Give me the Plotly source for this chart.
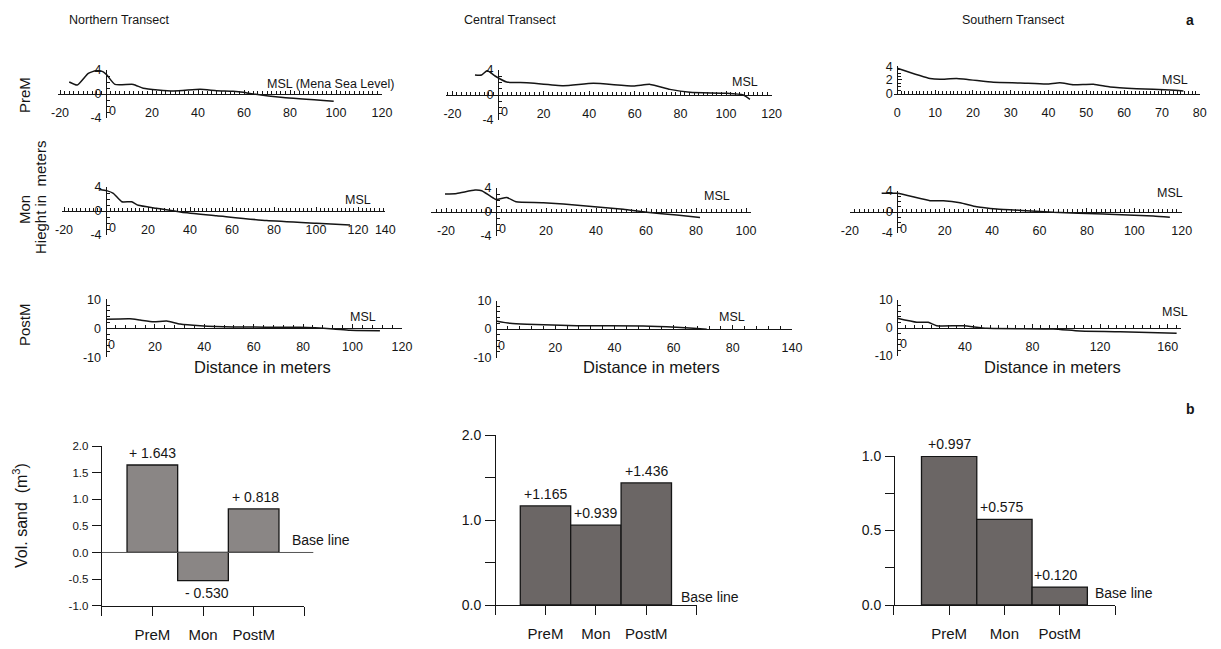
import plotly.graph_objects as go

W, H = 1221, 649

# ---------------- data: beach profiles (distance in m, height in m) ----------------
north_prem_x = [-16, -12.5, -7.7, -4, -1.2, 0.3, 3.9, 11.9, 16.2, 29.3, 40.9, 48.1, 55.3, 59.7, 64, 77, 99]
north_prem_y = [2.0, 1.5, 3.45, 3.9, 3.7, 3.2, 1.6, 1.6, 0.95, 0.5, 0.78, 0.55, 0.45, 0.28, 0.0, -0.6, -1.2]
central_prem_x = [-10.1, -7.2, -4.7, -1.3, 3.8, 12.6, 28.7, 41.8, 59.4, 66.7, 75.4, 84.2, 100.3, 107.6, 110.5]
central_prem_y = [3.2, 3.2, 3.9, 3.04, 2.08, 1.97, 1.5, 1.87, 1.44, 1.7, 0.9, 0.43, 0.27, 0.0, -0.7]
south_prem_x = [0, 8.65, 11.3, 15.7, 25.4, 32.5, 39.5, 43, 46.6, 51.9, 56.3, 63.3, 72.1, 75.7]
south_prem_y = [3.7, 2.2, 2.08, 2.2, 1.64, 1.54, 1.39, 1.58, 1.29, 1.35, 0.95, 0.7, 0.51, 0.37]

north_mon_x = [-2.9, 0.3, 3.5, 7.5, 12.2, 15.4, 24.1, 36, 52.7, 76.5, 100.3, 116.2]
north_mon_y = [3.6, 3.4, 2.95, 1.55, 1.55, 0.95, 0.45, -0.2, -0.78, -1.6, -2.05, -2.33]
central_mon_x = [-20.4, -15.7, -8.4, -5.7, -2.4, 0, 4.3, 8, 18.9, 34.9, 50.9, 60.3, 72.3, 81.6]
central_mon_y = [3.0, 3.1, 3.67, 3.55, 2.67, 2.1, 2.4, 1.72, 1.56, 1.06, 0.45, -0.05, -0.5, -0.9]
south_mon_x = [-6.6, 0, 13.8, 19.4, 26.5, 33.5, 41.9, 54.6, 65.8, 86.9, 108, 115]
south_mon_y = [3.56, 3.56, 2.15, 2.15, 1.77, 1.0, 0.57, 0.25, -0.06, -0.38, -0.76, -1.0]

north_postm_x = [0.2, 9.9, 14, 19.4, 24.8, 30.2, 38.3, 51.7, 78.7, 92.2, 99, 111.1]
north_postm_y = [3.1, 3.3, 2.86, 2.28, 2.5, 1.48, 0.9, 0.45, 0.33, -0.24, -0.7, -0.83]
central_postm_x = [0, 4.7, 10.4, 27.3, 49.8, 61, 66.7, 71.2]
central_postm_y = [2.83, 2.0, 1.65, 1.18, 1.06, 0.59, 0.24, -0.1]
south_postm_x = [0, 11.5, 18.3, 23.3, 39, 53, 92.3, 108, 131.8, 165.3]
south_postm_y = [3.46, 2.04, 2.04, 0.83, 0.83, -0.1, -0.36, -1.07, -1.3, -1.9]

# ---------------- data: sand volume change (m3) ----------------
seasons = ["PreM", "Mon", "PostM"]
north_vol = [1.643, -0.530, 0.818]
central_vol = [1.165, 0.939, 1.436]
south_vol = [0.997, 0.575, 0.120]
north_vol_text = ["+ 1.643", "- 0.530", "+ 0.818"]
central_vol_text = ["+1.165", "+0.939", "+1.436"]
south_vol_text = ["+0.997", "+0.575", "+0.120"]

# tick labels
ticks_m20_120 = [-20, 0, 20, 40, 60, 80, 100, 120]
ticks_0_80 = [0, 10, 20, 30, 40, 50, 60, 70, 80]
ticks_n_mon = [-20, 0, 20, 40, 60, 80, 100, 120, 133]
ticks_n_mon_text = ["-20", "0", "20", "40", "60", "80", "100", "120", "140"]
ticks_m20_100 = [-20, 0, 20, 40, 60, 80, 100]
ticks_0_120 = [0, 20, 40, 60, 80, 100, 120]
ticks_c_post = [0, 20, 40, 60, 80, 100]
ticks_c_post_text = ["0", "20", "40", "60", "80", "140"]
ticks_0_160 = [0, 40, 80, 120, 160]

FONT = "Liberation Sans, Arial, Helvetica, sans-serif"
BLACK = "#151515"
NB = "\u00a0"


def fx(p):
    return p / W


def fy(p):
    return 1 - p / H


fig = go.Figure()
annotations = []
shapes = []
layout = {}

# panel: (x, y, xrange, (pl, pr), yrange, (pb, pt), xtickvals, xticktext, xminor, ytickvals, yminor,
#         msl_text, msl_px, msl_py, zero label drawn right of the y axis)
panels = [
    (north_prem_x, north_prem_y, (-21, 120), (57.7, 382), (-4, 4), (118, 70),
     ticks_m20_120, None, 2, [-4, 0, 4], 1, "MSL (Mena Sea Level)", 330, 84, True),
    (central_prem_x, central_prem_y, (-22.9, 120), (445.8, 771.6), (-4, 4), (120, 70),
     ticks_m20_120, None, 2, [-4, 0, 4], 1, "MSL", 745, 82, True),
    (south_prem_x, south_prem_y, (-1, 80), (893.5, 1199.7), (0, 4.1), (93.5, 65.5),
     ticks_0_80, None, 1, [0, 2, 4], 0.5, "MSL", 1175, 80, False),
    (north_mon_x, north_mon_y, (-21, 133), (61.9, 385.3), (-4, 4), (235, 187),
     ticks_n_mon, ticks_n_mon_text, 2, [-4, 0, 4], 1, "MSL", 358, 200, True),
    (central_mon_x, central_mon_y, (-26, 102), (431, 751), (-4, 4), (236, 188),
     ticks_m20_100, None, 2, [-4, 0, 4], 1, "MSL", 717, 196, True),
    (south_mon_x, south_mon_y, (-20, 120), (849.9, 1181.7), (-4, 4), (233, 191),
     ticks_m20_120, None, 2, [-4, 0, 4], 1, "MSL", 1170, 193, True),
    (north_postm_x, north_postm_y, (0, 120), (105.5, 401.9), (-10, 10), (357.3, 299.3),
     ticks_0_120, None, 4, [-10, 0, 10], 2, "MSL", 363, 317, True),
    (central_postm_x, central_postm_y, (0, 100), (496, 792), (-10, 10), (357.5, 300.5),
     ticks_c_post, ticks_c_post_text, 4, [-10, 0, 10], 2, "MSL", 732, 317, True),
    (south_postm_x, south_postm_y, (0, 168), (897.3, 1181.2), (-10, 10), (356, 300),
     ticks_0_160, None, 5, [-10, 0, 10], 2, "MSL", 1175, 312, True),
]

TICKF = 12.5

for i, (xs, ys, xr, (pl, pr), yr, (pb, pt), xtv, xtt, xmin_d, ytv, ymin_d, msl, mx, my, shz) in enumerate(panels):
    k = i + 1
    xname = "x" if k == 1 else f"x{k}"
    yname = "y" if k == 1 else f"y{k}"
    fig.add_trace(go.Scatter(x=xs, y=ys, mode="lines", xaxis=xname, yaxis=yname,
                             line=dict(color=BLACK, width=1.5, shape="spline", smoothing=0.5),
                             hoverinfo="skip"))
    zero_py = pt + (yr[1] - 0) / (yr[1] - yr[0]) * (pb - pt)
    zero_px = pl + (0 - xr[0]) / (xr[1] - xr[0]) * (pr - pl)
    texts = list(xtt) if xtt else [str(v) for v in xtv]
    vals = list(xtv)
    if shz:
        # the "0" label sits just right of the vertical axis, drawn separately
        idx = vals.index(0)
        vals.pop(idx)
        zero_txt = texts.pop(idx)
        annotations.append(dict(x=0, y=fy(zero_py + 16.5), xref=xname, yref="paper", text=zero_txt,
                                showarrow=False, xanchor="center", yanchor="middle", xshift=6,
                                font=dict(size=TICKF, color=BLACK, family=FONT)))
    layout["xaxis" if k == 1 else f"xaxis{k}"] = dict(
        domain=[fx(pl), fx(pr)], range=list(xr), anchor="free", position=fy(zero_py),
        showline=True, linecolor=BLACK, linewidth=1, showgrid=False, zeroline=False,
        tickmode="array", tickvals=vals, ticktext=texts,
        ticks="inside", ticklen=4, tickcolor=BLACK, ticklabelstandoff=7,
        tickfont=dict(size=TICKF, color=BLACK, family=FONT),
        minor=dict(tickmode="linear", tick0=0, dtick=xmin_d, ticks="inside", ticklen=3,
                   tickcolor=BLACK, showgrid=False),
        fixedrange=True,
    )
    layout["yaxis" if k == 1 else f"yaxis{k}"] = dict(
        domain=[fy(pb), fy(pt)], range=list(yr), anchor="free", position=fx(zero_px),
        showline=True, linecolor=BLACK, linewidth=1, showgrid=False, zeroline=False,
        tickmode="array", tickvals=ytv, ticktext=[str(v) for v in ytv],
        ticks="inside", ticklen=4, tickcolor=BLACK, ticklabelstandoff=2,
        tickfont=dict(size=TICKF, color=BLACK, family=FONT),
        minor=dict(tickmode="linear", tick0=0, dtick=ymin_d, ticks="inside", ticklen=3,
                   tickcolor=BLACK, showgrid=False),
        fixedrange=True,
    )
    annotations.append(dict(x=fx(mx), y=fy(my), xref="paper", yref="paper", text=msl,
                            showarrow=False, xanchor="center", yanchor="middle",
                            font=dict(size=12.5, color=BLACK, family=FONT)))

# ---------------- bar charts ----------------
bar_specs = [
    # vols, texts, color, xrange, (pl, pr), yrange, (pb, pt), ytickvals, ytext, yminor, yaxis_px,
    # base line text pos, label xshift, ytick font size, ytick length
    (north_vol, north_vol_text, "#8a8685", (0, 4), (101.7, 304.3), (-1, 2), (605.7, 446),
     [-1, -0.5, 0, 0.5, 1, 1.5, 2], ["-1.0", "-0.5", "0.0", "0.5", "1.0", "1.5", "2.0"], None, 101.7,
     (290, 540), [0, 4, 2], 11.5, 9),
    (central_vol, central_vol_text, "#6b6665", (-0.2, 4), (485, 696.7), (0, 2), (605, 435),
     [0, 1, 2], ["0.0", "1.0", "2.0"], 0.5, 495, (679.3, 597), [0, 0, 0], 14, 10),
    (south_vol, south_vol_text, "#6b6665", (-0.16, 4), (885, 1115), (0, 1), (605, 456),
     [0, 0.5, 1], ["0.0", "0.5", "1.0"], 0.25, 894, (1092.7, 593), [0, -3, -4], 14, 9),
]

for j, (vals, texts, col, xr, (pl, pr), yr, (pb, pt), ytv, ytt, ymin_d, ypx, (bx, by), shifts, yfs, ytl) in enumerate(bar_specs):
    k = 10 + j
    xname, yname = f"x{k}", f"y{k}"
    xpos = list(range(1, len(seasons) + 1))
    fig.add_trace(go.Bar(x=xpos, y=vals, width=1, xaxis=xname, yaxis=yname,
                         marker=dict(color=col, line=dict(color=BLACK, width=1.3)),
                         hoverinfo="skip"))
    ydict = dict(
        domain=[fy(pb), fy(pt)], range=list(yr),
        showline=True, linecolor=BLACK, linewidth=1, showgrid=False, zeroline=False,
        tickmode="array", tickvals=ytv, ticktext=ytt,
        ticks="outside", ticklen=ytl, tickcolor=BLACK, ticklabelstandoff=1,
        tickfont=dict(size=yfs, color=BLACK, family=FONT), fixedrange=True,
    )
    if ymin_d:
        ydict["minor"] = dict(tickmode="linear", tick0=0, dtick=ymin_d, ticks="outside",
                              ticklen=ytl, tickcolor=BLACK, showgrid=False)
    if j == 0:
        ydict["anchor"] = xname
    else:
        ydict["anchor"] = "free"
        ydict["position"] = fx(ypx)
    layout[f"yaxis{k}"] = ydict
    layout[f"xaxis{k}"] = dict(
        domain=[fx(pl), fx(pr)], range=list(xr), anchor=yname,
        showline=True, linecolor=BLACK, linewidth=1, showgrid=False, zeroline=False,
        tickmode="array", tickvals=xpos, ticktext=seasons,
        ticks="outside", ticklen=9, tickcolor=BLACK, ticklabelstandoff=6,
        tickfont=dict(size=15, color=BLACK, family=FONT), fixedrange=True,
        minor=dict(tickmode="linear", tick0=0, dtick=1, ticks="outside", ticklen=9,
                   tickcolor=BLACK, showgrid=False),
    )
    for n, (v, t) in enumerate(zip(vals, texts)):
        annotations.append(dict(x=xpos[n], y=v, xref=xname, yref=yname, text=t,
                                showarrow=False, xanchor="center",
                                yanchor="bottom" if v >= 0 else "top",
                                yshift=2 if v >= 0 else -2, xshift=shifts[n],
                                font=dict(size=14, color=BLACK, family=FONT)))
    annotations.append(dict(x=fx(bx), y=fy(by), xref="paper", yref="paper", text="Base line",
                            showarrow=False, xanchor="left", yanchor="middle",
                            font=dict(size=14, color=BLACK, family=FONT)))

# baseline of northern bar chart
shapes.append(dict(type="line", xref="paper", yref="y10", x0=fx(101.7), x1=fx(313.3), y0=0, y1=0,
                   line=dict(color="#555555", width=1)))


# ---------------- titles and labels ----------------
def txt(text, px, py, size=13, angle=0, bold=False, anchor="center"):
    annotations.append(dict(x=fx(px), y=fy(py), xref="paper", yref="paper",
                            text=f"<b>{text}</b>" if bold else text, showarrow=False,
                            xanchor=anchor, yanchor="middle", textangle=angle,
                            font=dict(size=size, color=BLACK, family=FONT)))


txt("Northern Transect", 120, 20, size=12.5)
txt("Central Transect", 510, 20, size=12.5)
txt("Southern Transect", 1013, 20, size=12.5)
txt("a", 1190, 20, size=14, bold=True)
txt("b", 1190, 409, size=14, bold=True)
txt("PreM", 24, 95, size=15, angle=-90)
txt("Mon", 24, 210, size=15, angle=-90)
txt("PostM", 24, 325, size=15, angle=-90)
txt("Hieght" + NB + "in" + NB + NB + "meters", 40, 198, size=15, angle=-90)
txt("Distance in meters", 262, 367, size=16.5)
txt("Distance in meters", 651, 367, size=16.5)
txt("Distance in meters", 1052, 367, size=16.5)
txt("Vol." + NB + "sand" + NB + NB + "(m<sup>3</sup>)", 20, 516, size=16, angle=-90)

fig.update_layout(
    width=W, height=H, margin=dict(l=0, r=0, t=0, b=0, pad=0),
    paper_bgcolor="white", plot_bgcolor="rgba(0,0,0,0)",
    showlegend=False, template="none",
    font=dict(family=FONT, color=BLACK),
    annotations=annotations, shapes=shapes,
    **layout,
)

fig.write_html("out.html", config={"displayModeBar": False},
               post_script="document.body.style.margin='0';document.body.style.overflow='hidden';")
